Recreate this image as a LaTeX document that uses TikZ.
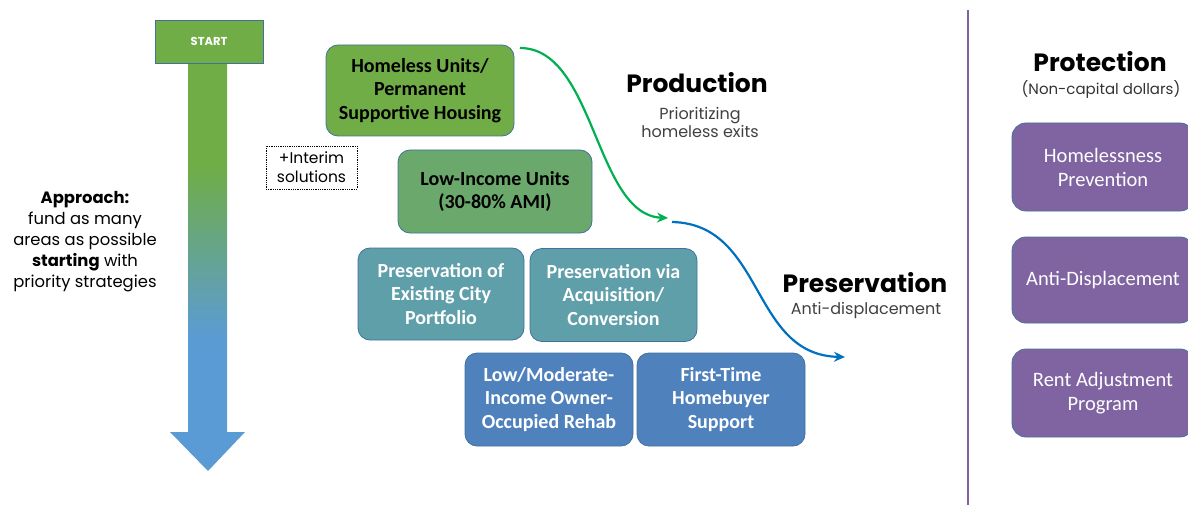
\documentclass[tikz,border=0pt]{standalone}
\usepackage{fontspec}
\setmainfont{Carlito}
\newfontfamily\headfont{Poppins}
\usepackage{tikz}
\usetikzlibrary{arrows.meta, positioning}
\definecolor{hlgreen}{HTML}{70AD47}
\definecolor{ligreen}{HTML}{6AA86B}
\definecolor{presteal}{HTML}{5F9FAA}
\definecolor{ownblue}{HTML}{4F81BD}
\definecolor{protpurple}{HTML}{8064A2}
\definecolor{boxedge}{HTML}{41719C}
\definecolor{prodgreen}{HTML}{00B050}
\definecolor{presblue}{HTML}{0070C0}
\definecolor{arrowblue}{HTML}{5B9BD5}
\definecolor{subgray}{HTML}{404040}
% green on top, fading into blue towards the tip
\pgfdeclareverticalshading{startfade}{100bp}{color(0bp)=(arrowblue); color(41bp)=(arrowblue); color(62bp)=(hlgreen); color(100bp)=(hlgreen)}
\newcommand{\boxfont}{\fontsize{20}{23.5}\selectfont}

\begin{document}
\begin{tikzpicture}[x=1pt, y=-1pt,
        strategy/.style={draw=boxedge, line width=0.8pt, rounded corners=12pt,
                         align=center, font=\boxfont\bfseries, inner sep=0pt},
        protect/.style={draw=boxedge, line width=0.8pt, rounded corners=14pt, fill=protpurple,
                        text=white, align=center, font=\fontsize{20.5}{24}\selectfont,
                        minimum width=182pt, inner sep=0pt},
        heading/.style={font=\headfont\bfseries\fontsize{25}{30}\selectfont, inner sep=0pt},
        subhead/.style={font=\headfont\fontsize{16}{18}\selectfont, text=subgray, align=center, inner sep=0pt},
        flow/.style={line width=2.2pt, -{Stealth[length=11pt, width=10pt]}},
    ]
    \useasboundingbox (0,0) rectangle (1188,505);

    % priority arrow
    \shade[shading=startfade] (188,60) -- (227,60) -- (227,432) -- (245,432) -- (208,471)
        -- (170,432) -- (188,432) -- cycle;
    \node[draw=boxedge, line width=0.8pt, fill=hlgreen, minimum width=108pt, minimum height=43pt,
          text=white, font=\headfont\bfseries\fontsize{11.5}{13}\selectfont] (startbox) at (209,41.5) {START};
    \node[font=\headfont\fontsize{16.4}{21}\selectfont, align=center] (approach) at (85,242)
        {\textbf{Approach:}\\fund as many\\areas as possible\\\textbf{starting} with\\priority strategies};

    % capital strategies
    \node[strategy, fill=hlgreen, minimum width=188pt, minimum height=91pt] (homeless) at (420,90.5)
        {Homeless Units/\\Permanent\\Supportive Housing};
    \node[draw, densely dotted, line width=0.8pt, minimum width=91pt, minimum height=43pt, align=center,
          font=\headfont\fontsize{15.5}{19}\selectfont, inner sep=0pt] (interim) at (311.5,167.5)
        {+Interim\\solutions};
    \node[strategy, fill=ligreen, minimum width=194pt, minimum height=83pt] (lowinc) at (495,191.5)
        {Low-Income Units\\(30-80\% AMI)};
    \node[strategy, fill=presteal, text=white, minimum width=166pt, minimum height=92pt] (cityport) at (441,294)
        {Preservation of\\Existing City\\Portfolio};
    \node[strategy, fill=presteal, text=white, minimum width=167pt, minimum height=93pt] (acquire) at (613.5,295)
        {Preservation via\\Acquisition/\\Conversion};
    \node[strategy, fill=ownblue, text=white, minimum width=168pt, minimum height=93pt] (rehab) at (549,399.5)
        {Low/Moderate-\\Income Owner-\\Occupied Rehab};
    \node[strategy, fill=ownblue, text=white, minimum width=168pt, minimum height=93pt] (buyer) at (721,399.5)
        {First-Time\\Homebuyer\\Support};

    % production / preservation curves
    \coordinate (prodtail) at (520,48);
    \coordinate (prodhead) at (668,218);
    \coordinate (prestail) at (672,222);
    \coordinate (preshead) at (845,357);
    \draw[flow, prodgreen] (prodtail) .. controls (595,48) and (595,215) .. (prodhead);
    \draw[flow, presblue] (prestail) .. controls (765,224) and (750,355) .. (preshead);

    \node[heading] (production) at (697,83) {Production};
    \node[subhead] (prodnote) at (700,122) {Prioritizing\\homeless exits};
    \node[heading] (preservation) at (865,283) {Preservation};
    \node[subhead] (presnote) at (866,310) {Anti-displacement};

    % non-capital side
    \draw[protpurple, line width=2pt] (968,10) -- (968,505);
    \node[heading] (protection) at (1100,62) {Protection};
    \node[subhead, text=black!80, font=\headfont\fontsize{15}{17}\selectfont] (noncap) at (1101,89)
        {(Non-capital dollars)};
    \node[protect, minimum height=88pt] (prevention) at (1103,167) {Homelessness\\Prevention};
    \node[protect, minimum height=86pt] (antidisp) at (1103,280) {Anti-Displacement};
    \node[protect, minimum height=88pt] (rent) at (1103,393) {Rent Adjustment\\Program};
\end{tikzpicture}
\end{document}
